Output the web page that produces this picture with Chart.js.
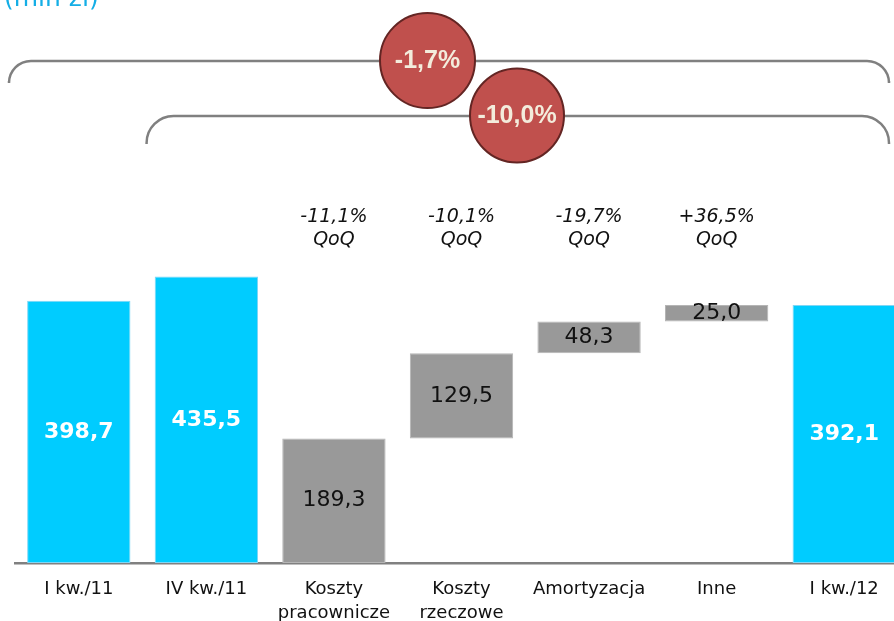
<!DOCTYPE html>
<html>
<head>
<meta charset="utf-8">
<script src="https://cdn.jsdelivr.net/npm/chart.js@4/dist/chart.umd.min.js"></script>
<style>
  html, body { margin: 0; padding: 0; background: #ffffff; overflow: hidden; width: 894px; height: 621px; }
  #wrap { position: absolute; left: 0; top: 0; width: 908px; height: 621px; }
</style>
</head>
<body>
<div id="wrap"><canvas id="c" width="908" height="621"></canvas></div>
<script>
// ---- data ----
const categories = ['I kw./11', 'IV kw./11', ['Koszty', 'pracownicze'], ['Koszty', 'rzeczowe'], 'Amortyzacja', 'Inne', 'I kw./12'];
const values = [398.7, 435.5, 189.3, 129.5, 48.3, 25.0, 392.1];
const isTotal = [true, true, false, false, false, false, true];
const valueLabels = ['398,7', '435,5', '189,3', '129,5', '48,3', '25,0', '392,1'];
const qoqLabels = ['', '', '-11,1%', '-10,1%', '-19,7%', '+36,5%', ''];
const changeLabels = ['-1,7%', '-10,0%'];
const unitLabel = '(mln zł)';

// waterfall ranges: totals from 0, components stacked on previous components
const ranges = [];
let run = 0;
for (let i = 0; i < values.length; i++) {
  if (isTotal[i]) { ranges.push([0, values[i]]); }
  else { ranges.push([run, run + values[i]]); run += values[i]; }
}

const CYAN = '#00CCFF';
const GRAY = '#999999';

function brace(ctx, x1, x2, y, yEnd, r) {
  ctx.beginPath();
  ctx.moveTo(x1, yEnd);
  ctx.arcTo(x1, y, x1 + r, y, r);
  ctx.lineTo(x2 - r, y);
  ctx.arcTo(x2, y, x2, yEnd, r);
  ctx.lineTo(x2, yEnd);
  ctx.stroke();
}
function bubble(ctx, x, y, r, txt) {
  ctx.beginPath();
  ctx.arc(x, y, r, 0, Math.PI * 2);
  ctx.fillStyle = '#C0504D';
  ctx.fill();
  ctx.lineWidth = 2;
  ctx.strokeStyle = '#632523';
  ctx.stroke();
  ctx.fillStyle = '#F3ECDC';
  ctx.font = 'bold 25px "Liberation Sans", Arial, sans-serif';
  ctx.textAlign = 'center';
  ctx.textBaseline = 'middle';
  ctx.fillText(txt, x, y + 1);
}

const decor = {
  id: 'decor',
  afterDatasetsDraw(chart) {
    const ctx = chart.ctx;
    const xs = chart.scales.x;
    const meta = chart.getDatasetMeta(0);
    ctx.save();
    // value labels inside bars
    meta.data.forEach((el, i) => {
      const p = el.getProps(['x', 'y', 'base'], true);
      const cy = (p.y + p.base) / 2;
      if (isTotal[i]) {
        ctx.font = 'bold 22px "DejaVu Sans", Verdana, sans-serif';
        ctx.fillStyle = '#ffffff';
      } else {
        ctx.font = '22px "DejaVu Sans", Verdana, sans-serif';
        ctx.fillStyle = '#111111';
      }
      ctx.textAlign = 'center';
      ctx.textBaseline = 'middle';
      ctx.fillText(valueLabels[i], p.x, cy);
    });
    // QoQ labels
    ctx.font = 'italic 19px "DejaVu Sans", Verdana, sans-serif';
    ctx.fillStyle = '#111111';
    qoqLabels.forEach((t, i) => {
      if (!t) return;
      const x = xs.getPixelForValue(i);
      ctx.fillText(t, x, 217);
      ctx.fillText('QoQ', x, 240);
    });
    // unit label (cropped at top)
    ctx.font = '25px "DejaVu Sans", Verdana, sans-serif';
    ctx.fillStyle = '#14AEE6';
    ctx.textAlign = 'left';
    ctx.textBaseline = 'alphabetic';
    ctx.fillText(unitLabel, 4, 6);
    // braces
    ctx.strokeStyle = '#808080';
    ctx.lineWidth = 2.5;
    const pitch = xs.getPixelForValue(1) - xs.getPixelForValue(0);
    const rightEnd = 889;
    brace(ctx, xs.getPixelForValue(0) - pitch / 2 - 6, rightEnd, 61, 81, 22);
    brace(ctx, xs.getPixelForValue(1) - pitch / 2 + 4, rightEnd, 116, 144, 27);
    // change bubbles
    bubble(ctx, 427.5, 60.5, 47.5, changeLabels[0]);
    bubble(ctx, 517, 115.5, 47, changeLabels[1]);
    ctx.restore();
  }
};

new Chart(document.getElementById('c'), {
  type: 'bar',
  data: {
    labels: categories,
    datasets: [{
      data: ranges,
      backgroundColor: isTotal.map(t => t ? CYAN : GRAY),
      borderColor: isTotal.map(t => t ? '#7FD6F5' : '#B5B5B5'),
      borderWidth: 1,
      borderSkipped: false,
      categoryPercentage: 1,
      barPercentage: 0.81
    }]
  },
  options: {
    responsive: false,
    animation: false,
    events: [],
    layout: { padding: { left: 15, right: 0, top: 0, bottom: 0 } },
    plugins: { legend: { display: false }, tooltip: { enabled: false } },
    scales: {
      x: {
        grid: { display: false },
        border: { display: true, color: '#808080', width: 2.5 },
        ticks: {
          color: '#111111',
          font: { family: '"DejaVu Sans", Verdana, sans-serif', size: 18, lineHeight: 1.3 },
          padding: 7,
          maxRotation: 0,
          autoSkip: false
        },
        afterFit(s) { s.height = 58; }
      },
      y: {
        display: false,
        min: 0,
        max: 856
      }
    }
  },
  plugins: [decor]
});
</script>
</body>
</html>
